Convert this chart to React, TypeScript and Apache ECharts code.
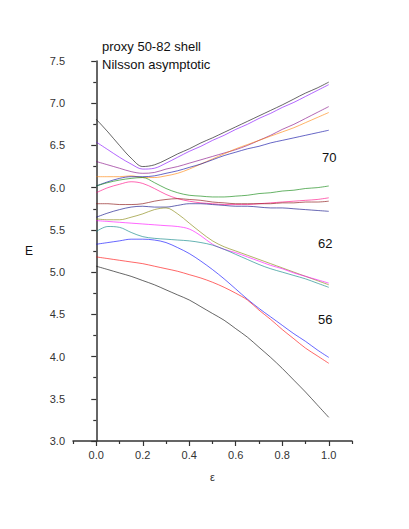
import React, { useEffect, useRef } from "react";
import * as echarts from "echarts";

const eps = [0, 0.05, 0.1, 0.15, 0.2, 0.25, 0.3, 0.35, 0.4, 0.45, 0.5, 0.55, 0.6, 0.65, 0.7, 0.75, 0.8, 0.85, 0.9, 0.95, 1.0];

const blackTop = [6.81, 6.66, 6.5, 6.35, 6.25, 6.27, 6.33, 6.4, 6.46, 6.53, 6.59, 6.655, 6.72, 6.785, 6.85, 6.915, 6.98, 7.05, 7.12, 7.18, 7.25];
const violet = [6.54, 6.45, 6.36, 6.28, 6.22, 6.23, 6.29, 6.36, 6.43, 6.49, 6.56, 6.62, 6.69, 6.75, 6.82, 6.88, 6.95, 7.01, 7.08, 7.15, 7.22];
const purple = [6.31, 6.27, 6.23, 6.19, 6.17, 6.18, 6.22, 6.25, 6.29, 6.33, 6.37, 6.41, 6.45, 6.5, 6.56, 6.62, 6.69, 6.75, 6.82, 6.89, 6.96];
const orange = [6.13, 6.13, 6.13, 6.14, 6.12, 6.12, 6.14, 6.17, 6.22, 6.28, 6.34, 6.4, 6.46, 6.51, 6.56, 6.61, 6.66, 6.71, 6.77, 6.83, 6.89];
const royal = [6.02, 6.07, 6.11, 6.13, 6.13, 6.14, 6.17, 6.2, 6.24, 6.28, 6.33, 6.38, 6.42, 6.46, 6.49, 6.53, 6.56, 6.59, 6.62, 6.65, 6.68];
const green = [6.02, 6.06, 6.09, 6.11, 6.12, 6.06, 5.99, 5.94, 5.91, 5.9, 5.89, 5.89, 5.9, 5.91, 5.93, 5.94, 5.96, 5.97, 5.99, 6.0, 6.02];
const pink = [5.94, 6.0, 6.04, 6.07, 6.05, 5.99, 5.92, 5.87, 5.84, 5.82, 5.81, 5.8, 5.8, 5.8, 5.81, 5.82, 5.83, 5.84, 5.85, 5.86, 5.88];
const wine = [5.81, 5.81, 5.8, 5.8, 5.81, 5.84, 5.86, 5.87, 5.86, 5.85, 5.83, 5.82, 5.81, 5.81, 5.81, 5.81, 5.82, 5.82, 5.83, 5.83, 5.84];
const navy = [5.65, 5.7, 5.74, 5.77, 5.78, 5.77, 5.77, 5.79, 5.81, 5.81, 5.8, 5.79, 5.78, 5.78, 5.77, 5.76, 5.76, 5.75, 5.74, 5.73, 5.72];
const olive = [5.63, 5.62, 5.62, 5.65, 5.69, 5.74, 5.76, 5.69, 5.58, 5.47, 5.37, 5.3, 5.25, 5.2, 5.15, 5.1, 5.05, 5.0, 4.95, 4.9, 4.85];
const magenta = [5.61, 5.6, 5.59, 5.58, 5.57, 5.56, 5.55, 5.54, 5.51, 5.43, 5.33, 5.27, 5.23, 5.18, 5.13, 5.08, 5.04, 4.99, 4.95, 4.91, 4.87];
const cyan = [5.48, 5.54, 5.53, 5.47, 5.42, 5.4, 5.39, 5.38, 5.37, 5.35, 5.32, 5.27, 5.21, 5.15, 5.09, 5.04, 5.0, 4.96, 4.92, 4.87, 4.82];
const blue = [5.33, 5.35, 5.37, 5.39, 5.39, 5.38, 5.35, 5.29, 5.22, 5.13, 5.03, 4.92, 4.8, 4.68, 4.57, 4.47, 4.37, 4.27, 4.18, 4.08, 3.99];
const red = [5.18, 5.16, 5.14, 5.12, 5.1, 5.07, 5.04, 5.01, 4.97, 4.93, 4.88, 4.82, 4.75, 4.67, 4.55, 4.44, 4.32, 4.21, 4.1, 4.01, 3.92];
const blackBottom = [5.07, 5.03, 4.99, 4.95, 4.9, 4.85, 4.79, 4.73, 4.67, 4.59, 4.51, 4.43, 4.33, 4.23, 4.11, 3.99, 3.86, 3.72, 3.58, 3.43, 3.28];

const curves: [number[], string][] = [
  [blackTop, "#000000"],
  [violet, "#8000FF"],
  [purple, "#800080"],
  [orange, "#FF8000"],
  [royal, "#0000A0"],
  [green, "#008000"],
  [pink, "#FF0080"],
  [wine, "#800000"],
  [navy, "#000080"],
  [olive, "#808000"],
  [magenta, "#FF00FF"],
  [cyan, "#008080"],
  [blue, "#0000FF"],
  [red, "#FF0000"],
  [blackBottom, "#000000"],
];

const xMajor = [0, 0.2, 0.4, 0.6, 0.8, 1.0];
const xMinor = [-0.1, 0.1, 0.3, 0.5, 0.7, 0.9, 1.1];

const shellLabels: [string, number, number][] = [
  ["70", 322, 158],
  ["62", 318, 244],
  ["56", 318, 320],
];

const FONT = "'Liberation Sans', Arial, sans-serif";

export default function App() {
  const ref = useRef<HTMLDivElement>(null);
  useEffect(() => {
    document.body.style.margin = "0";
    const chart = echarts.init(ref.current!, undefined, { renderer: "svg" });
    const axisColor = "#333333";
    chart.setOption({
      animation: false,
      backgroundColor: "#ffffff",
      grid: { left: 73, right: 57, top: 61, bottom: 88 },
      xAxis: [
        {
          type: "value",
          min: -0.1,
          max: 1.1,
          name: "ε",
          nameLocation: "middle",
          nameGap: 30,
          nameTextStyle: { color: "#333", fontSize: 11, fontFamily: FONT },
          axisLine: { show: true, lineStyle: { color: axisColor, width: 1.5 } },
          axisTick: { show: true, length: 5, customValues: xMajor, lineStyle: { color: axisColor, width: 1.2 } },
          axisLabel: {
            customValues: xMajor,
            formatter: (v: number) => v.toFixed(1),
            color: "#333",
            fontSize: 11,
            margin: 8,
            fontFamily: FONT,
          },
          splitLine: { show: false },
        },
        {
          type: "value",
          min: -0.1,
          max: 1.1,
          position: "bottom",
          axisLine: { show: false },
          axisTick: { show: true, length: 3, customValues: xMinor, lineStyle: { color: axisColor, width: 1.2 } },
          axisLabel: { show: false },
          splitLine: { show: false },
        },
      ],
      yAxis: {
        type: "value",
        min: 3.0,
        max: 7.5,
        interval: 0.5,
        name: "E",
        nameLocation: "middle",
        nameGap: 40,
        nameRotate: 0,
        nameTextStyle: { color: "#111", fontSize: 12, fontFamily: FONT },
        axisLine: { show: true, lineStyle: { color: axisColor, width: 1.5 } },
        axisTick: { show: true, length: 5, lineStyle: { color: axisColor, width: 1.2 } },
        minorTick: { show: true, splitNumber: 2, length: 3, lineStyle: { color: axisColor, width: 1.2 } },
        axisLabel: {
          formatter: (v: number) => v.toFixed(1),
          color: "#333",
          fontSize: 11,
          margin: 8,
          fontFamily: FONT,
        },
        splitLine: { show: false },
      },
      series: curves.map(([vals, color]) => ({
        type: "line",
        xAxisIndex: 0,
        data: eps.map((e, i) => [e, vals[i]]),
        smooth: 0.35,
        symbol: "none",
        lineStyle: { color, width: 1, opacity: 0.6 },
        silent: true,
      })),
      graphic: [
        {
          type: "text",
          left: 102,
          top: 40,
          style: { text: "proxy 50-82 shell", fontSize: 13, fill: "#111", fontFamily: FONT },
        },
        {
          type: "text",
          left: 102,
          top: 58,
          style: { text: "Nilsson asymptotic", fontSize: 13, fill: "#111", fontFamily: FONT },
        },
        ...shellLabels.map(([t, x, y]) => ({
          type: "text",
          left: x,
          top: y - 7,
          style: { text: t, fontSize: 13, fill: "#111", fontFamily: FONT },
        })),
      ],
    });
    return () => chart.dispose();
  }, []);
  return <div ref={ref} style={{ position: "fixed", left: 0, top: 0, width: 409, height: 529 }} />;
}
